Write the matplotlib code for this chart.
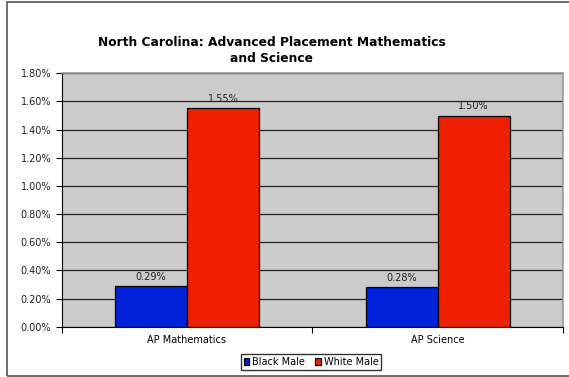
import matplotlib
matplotlib.use("Agg")
import matplotlib.pyplot as plt
from matplotlib.patches import Rectangle
from matplotlib.ticker import FuncFormatter, MultipleLocator

categories = ["AP Mathematics", "AP Science"]
series_names = ["Black Male", "White Male"]
black_male = [0.29, 0.28]
white_male = [1.55, 1.50]
colors = ["#0022d8", "#ee2000"]

W, H = 569, 377
fig = plt.figure(figsize=(W / 100, H / 100), dpi=100)
fig.patch.set_facecolor("white")

# outer frame (right edge falls outside the image)
fig.patches.append(Rectangle((6.5 / W, 1 / H), (W + 5) / W, (H - 2.5) / H,
                             transform=fig.transFigure, fill=False,
                             edgecolor="#555555", linewidth=1.2, clip_on=False))

ax = fig.add_axes([61.5 / W, (H - 326.7) / H, (563 - 61.5) / W, (326.7 - 73.3) / H])
ax.set_facecolor("#cbcbcb")

bw = 0.287
x = [0.5, 1.5]
for i, (vals, name, c) in enumerate(zip([black_male, white_male], series_names, colors)):
    pos = [xi + (i - 0.5) * bw for xi in x]
    ax.bar(pos, vals, width=bw, color=c, edgecolor="black", linewidth=0.9,
           label=name, zorder=3)
    for p, v in zip(pos, vals):
        ax.text(p, v + 0.03, f"{v:.2f}%", ha="center", va="bottom",
                fontsize=7, color="#222222", zorder=4)

ax.set_xlim(0, 2)
ax.set_ylim(0, 1.8)
ax.yaxis.set_major_locator(MultipleLocator(0.2))
ax.yaxis.set_major_formatter(FuncFormatter(lambda v, p: f"{v:.2f}%"))
ax.grid(axis="y", color="#222222", linewidth=0.9, zorder=1)
ax.set_axisbelow(True)

ax.set_xticks([0, 1, 2])
ax.set_xticklabels([])
ax.set_xticks(x, minor=True)
ax.set_xticklabels(categories, minor=True)
ax.tick_params(axis="x", which="minor", length=0, labelsize=7, pad=6)
ax.tick_params(axis="x", which="major", length=4, width=0.8, direction="out")
ax.tick_params(axis="y", length=4, width=0.8, labelsize=7, labelcolor="#222222")

for s in ["top", "right"]:
    ax.spines[s].set_color("#999999")
    ax.spines[s].set_linewidth(1.2)
ax.spines["left"].set_color("black")
ax.spines["bottom"].set_color("black")

fig.text(272 / W, 1 - 50.5 / H, "North Carolina: Advanced Placement Mathematics\nand Science",
         ha="center", va="center", fontsize=8.8, fontweight="bold", linespacing=1.25)

leg = fig.legend(loc="center", bbox_to_anchor=(311 / W, 1 - 362 / H), ncol=2,
                 fontsize=7, frameon=True, fancybox=False, edgecolor="black",
                 handlelength=0.6, handleheight=0.6, handletextpad=0.3,
                 columnspacing=1.0, borderpad=0.3)
leg.get_frame().set_linewidth(1.0)

fig.savefig("out.png", dpi=100)
